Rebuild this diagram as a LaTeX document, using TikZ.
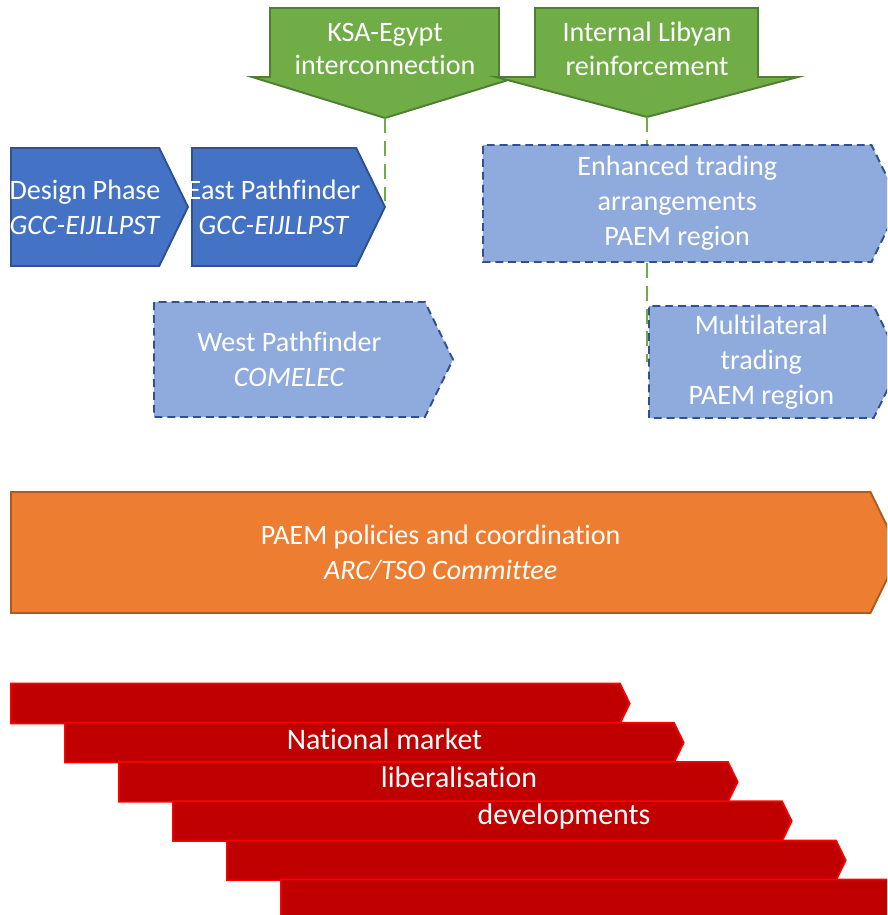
\documentclass[tikz,border=0pt]{standalone}
\usepackage{fontspec}
\setmainfont{Carlito}[Ligatures=NoCommon]
\usepackage{tikz}
\usetikzlibrary{shapes.symbols,positioning}
\definecolor{leaf}{HTML}{70AD47}
\definecolor{darkleaf}{HTML}{507E32}
\definecolor{royal}{HTML}{4472C4}
\definecolor{navy}{HTML}{2F528F}
\definecolor{pale}{HTML}{8FAADC}
\definecolor{amber}{HTML}{ED7D31}
\definecolor{rust}{HTML}{AE5A21}
\definecolor{crimson}{HTML}{C00000}
\definecolor{scarlet}{HTML}{FF0000}
\newlength\pxl
\setlength\pxl{0.02cm}
\tikzset{
  phase/.style={signal,signal to=east,signal pointer angle=128,anchor=west,
    draw=navy,fill=royal,line width=1.1pt,text=white,align=center,
    inner xsep=-0.5cm,inner ysep=0pt,font=\fontsize{16}{20}\selectfont},
  pathfinder/.style={phase,fill=pale,dash pattern=on 4.5pt off 2.8pt},
  policy/.style={phase,draw=rust,fill=amber},
  reform/.style={phase,draw=scarlet,fill=crimson,line width=0.9pt,inner xsep=0pt,
    minimum width=619\pxl,minimum height=40\pxl},
  project/.style={draw=darkleaf,fill=leaf,line width=1.1pt},
  projtext/.style={text=white,align=center,font=\fontsize{16}{19}\selectfont},
  redtext/.style={text=white,anchor=base,font=\fontsize{17}{20}\selectfont},
  link/.style={draw=leaf,line width=1.1pt,dash pattern=on 8.5pt off 4.5pt}
}
\begin{document}
\begin{tikzpicture}[x=0.02cm,y=-0.02cm]
\clip (0,0) rectangle (887,915);
% projects feeding in from the top
\draw[project] (270,8) -- (499,8) -- (499,77) -- (518,77) -- (385,118) -- (252,77) -- (270,77) -- cycle;
\draw[project] (535,8) -- (758,8) -- (758,77) -- (798,77) -- (647,117) -- (496,77) -- (535,77) -- cycle;
\node[projtext] (ksa) at (385,49) {KSA-Egypt\\interconnection};
\node[projtext] (libya) at (647,49) {Internal Libyan\\reinforcement};
\coordinate (ksatip) at (385,118);
\coordinate (libyatip) at (647,117);

% pathfinders
\node[phase,minimum width=177\pxl,minimum height=118\pxl] (design) at (10,207) {Design Phase\\\textit{GCC-EIJLLPST}};
\node[phase,minimum width=193\pxl,minimum height=118\pxl] (east) at (191,207) {East Pathfinder\\\textit{GCC-EIJLLPST}};
\node[pathfinder,minimum width=299\pxl,minimum height=115\pxl] (west) at (153,359.5) {West Pathfinder\\\textit{COMELEC}};
\node[pathfinder,minimum width=417\pxl,minimum height=117\pxl] (trade) at (482,203.5) {Enhanced trading\\arrangements\\PAEM region};
\node[pathfinder,minimum width=252\pxl,minimum height=112\pxl] (multi) at (648,362) {Multilateral\\trading\\PAEM region};
\node[policy,minimum width=889\pxl,minimum height=121\pxl] (paem) at (10,552.5) {PAEM policies and coordination\\\textit{ARC/TSO Committee}};

% national reforms, stepping down to the right
\foreach \i in {0,...,5}
  \node[reform] (bar\i) at ({10+54*\i},{703.5+39.2*\i}) {};
\node[redtext] (nat1) at (384.5,749) {National market};
\node[redtext] (nat2) at (459,787) {liberalisation};
\node[redtext] (nat3) at (564,824) {developments};

% links
\draw[link] (ksatip) -- (ksatip |- east.east);
\draw[link] (libyatip) -- (libyatip |- trade.north);
\draw[link] (libyatip |- trade.south) -- (libyatip |- multi.west);
\end{tikzpicture}
\end{document}
